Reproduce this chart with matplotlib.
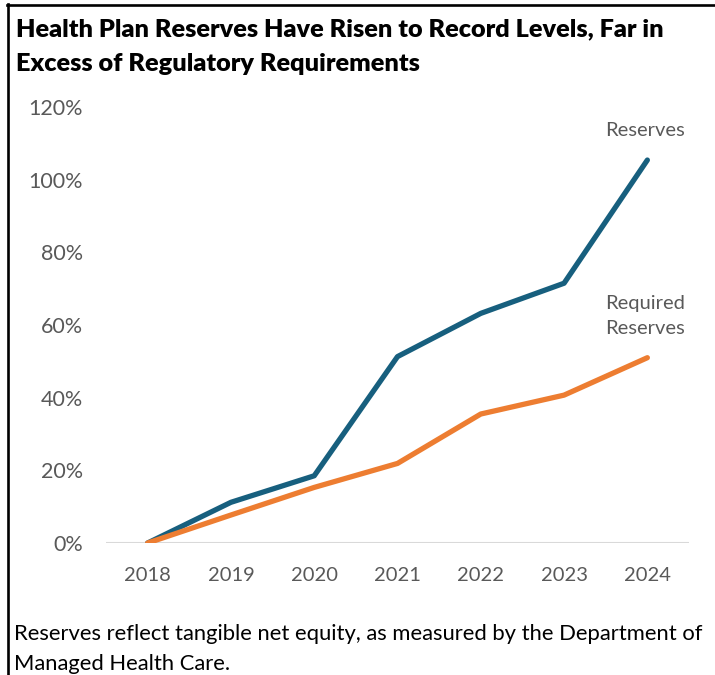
import matplotlib

matplotlib.use("Agg")
import matplotlib.pyplot as plt  # noqa: E402
from matplotlib.lines import Line2D  # noqa: E402

plt.rcParams["font.family"] = ["Lato", "DejaVu Sans"]

years = ["2018", "2019", "2020", "2021", "2022", "2023", "2024"]
reserves = [0, 11.2, 18.5, 51.3, 63.2, 71.5, 105.4]
required = [0, 7.7, 15.3, 21.9, 35.5, 40.7, 51.0]
y_ticks = [0, 20, 40, 60, 80, 100, 120]

BLUE = "#175f7e"
ORANGE = "#ed7d31"
GRAY = "#595959"

W, H = 715, 675
fig = plt.figure(figsize=(W / 100, H / 100), dpi=100)


def fx(px):
    return px / W


def fy(px):
    return 1 - px / H


# axes box in pixels: left 106, right 689, top 107, bottom 543
ax = fig.add_axes([fx(106), fy(543), (689 - 106) / W, (543 - 107) / H])

xs = range(len(years))
ax.plot(xs, reserves, color=BLUE, lw=3.8, solid_capstyle="round",
        solid_joinstyle="round", zorder=3)
ax.plot(xs, required, color=ORANGE, lw=3.8, solid_capstyle="round",
        solid_joinstyle="round", zorder=4)
ax.axhline(0, color="#d9d9d9", lw=1.5, zorder=1)

ax.set_xlim(-0.5, len(years) - 0.5)
ax.set_ylim(0, 120)
ax.set_xticks(list(xs))
ax.set_xticklabels(years)
ax.set_yticks(y_ticks)
ax.set_yticklabels([f"{v}%" for v in y_ticks])
ax.tick_params(length=0, labelcolor=GRAY)
ax.tick_params(axis="y", pad=16.5, labelsize=15.5)
ax.tick_params(axis="x", pad=17, labelsize=14.5)
for s in ax.spines.values():
    s.set_visible(False)

# series labels
ax.text(6.45, 113.4, "Reserves", ha="right", va="center", fontsize=14.5,
        color=GRAY)
ax.text(6.45, 65.8, "Required", ha="right", va="center", fontsize=14.5,
        color=GRAY)
ax.text(6.45, 58.9, "Reserves", ha="right", va="center", fontsize=14.5,
        color=GRAY)

# title, two lines
fig.text(fx(16), fy(36), "Health Plan Reserves Have Risen to Record Levels, Far in",
         ha="left", va="baseline", fontsize=18.2, fontweight="heavy",
         color="black")
fig.text(fx(16), fy(71), "Excess of Regulatory Requirements",
         ha="left", va="baseline", fontsize=18.2, fontweight="heavy",
         color="black")

# caption
fig.text(fx(14), fy(640),
         "Reserves reflect tangible net equity, as measured by the Department of",
         ha="left", va="baseline", fontsize=15.8, color="black")
fig.text(fx(14), fy(670), "Managed Health Care.",
         ha="left", va="baseline", fontsize=15.8, color="black")

# frame lines (top and left)
fig.add_artist(Line2D([fx(8), fx(8)], [0, fy(4)], color="black", lw=1.9,
                      transform=fig.transFigure))
fig.add_artist(Line2D([fx(7), 1], [fy(5), fy(5)], color="black", lw=1.9,
                      transform=fig.transFigure))

fig.savefig("out.png", dpi=100)
